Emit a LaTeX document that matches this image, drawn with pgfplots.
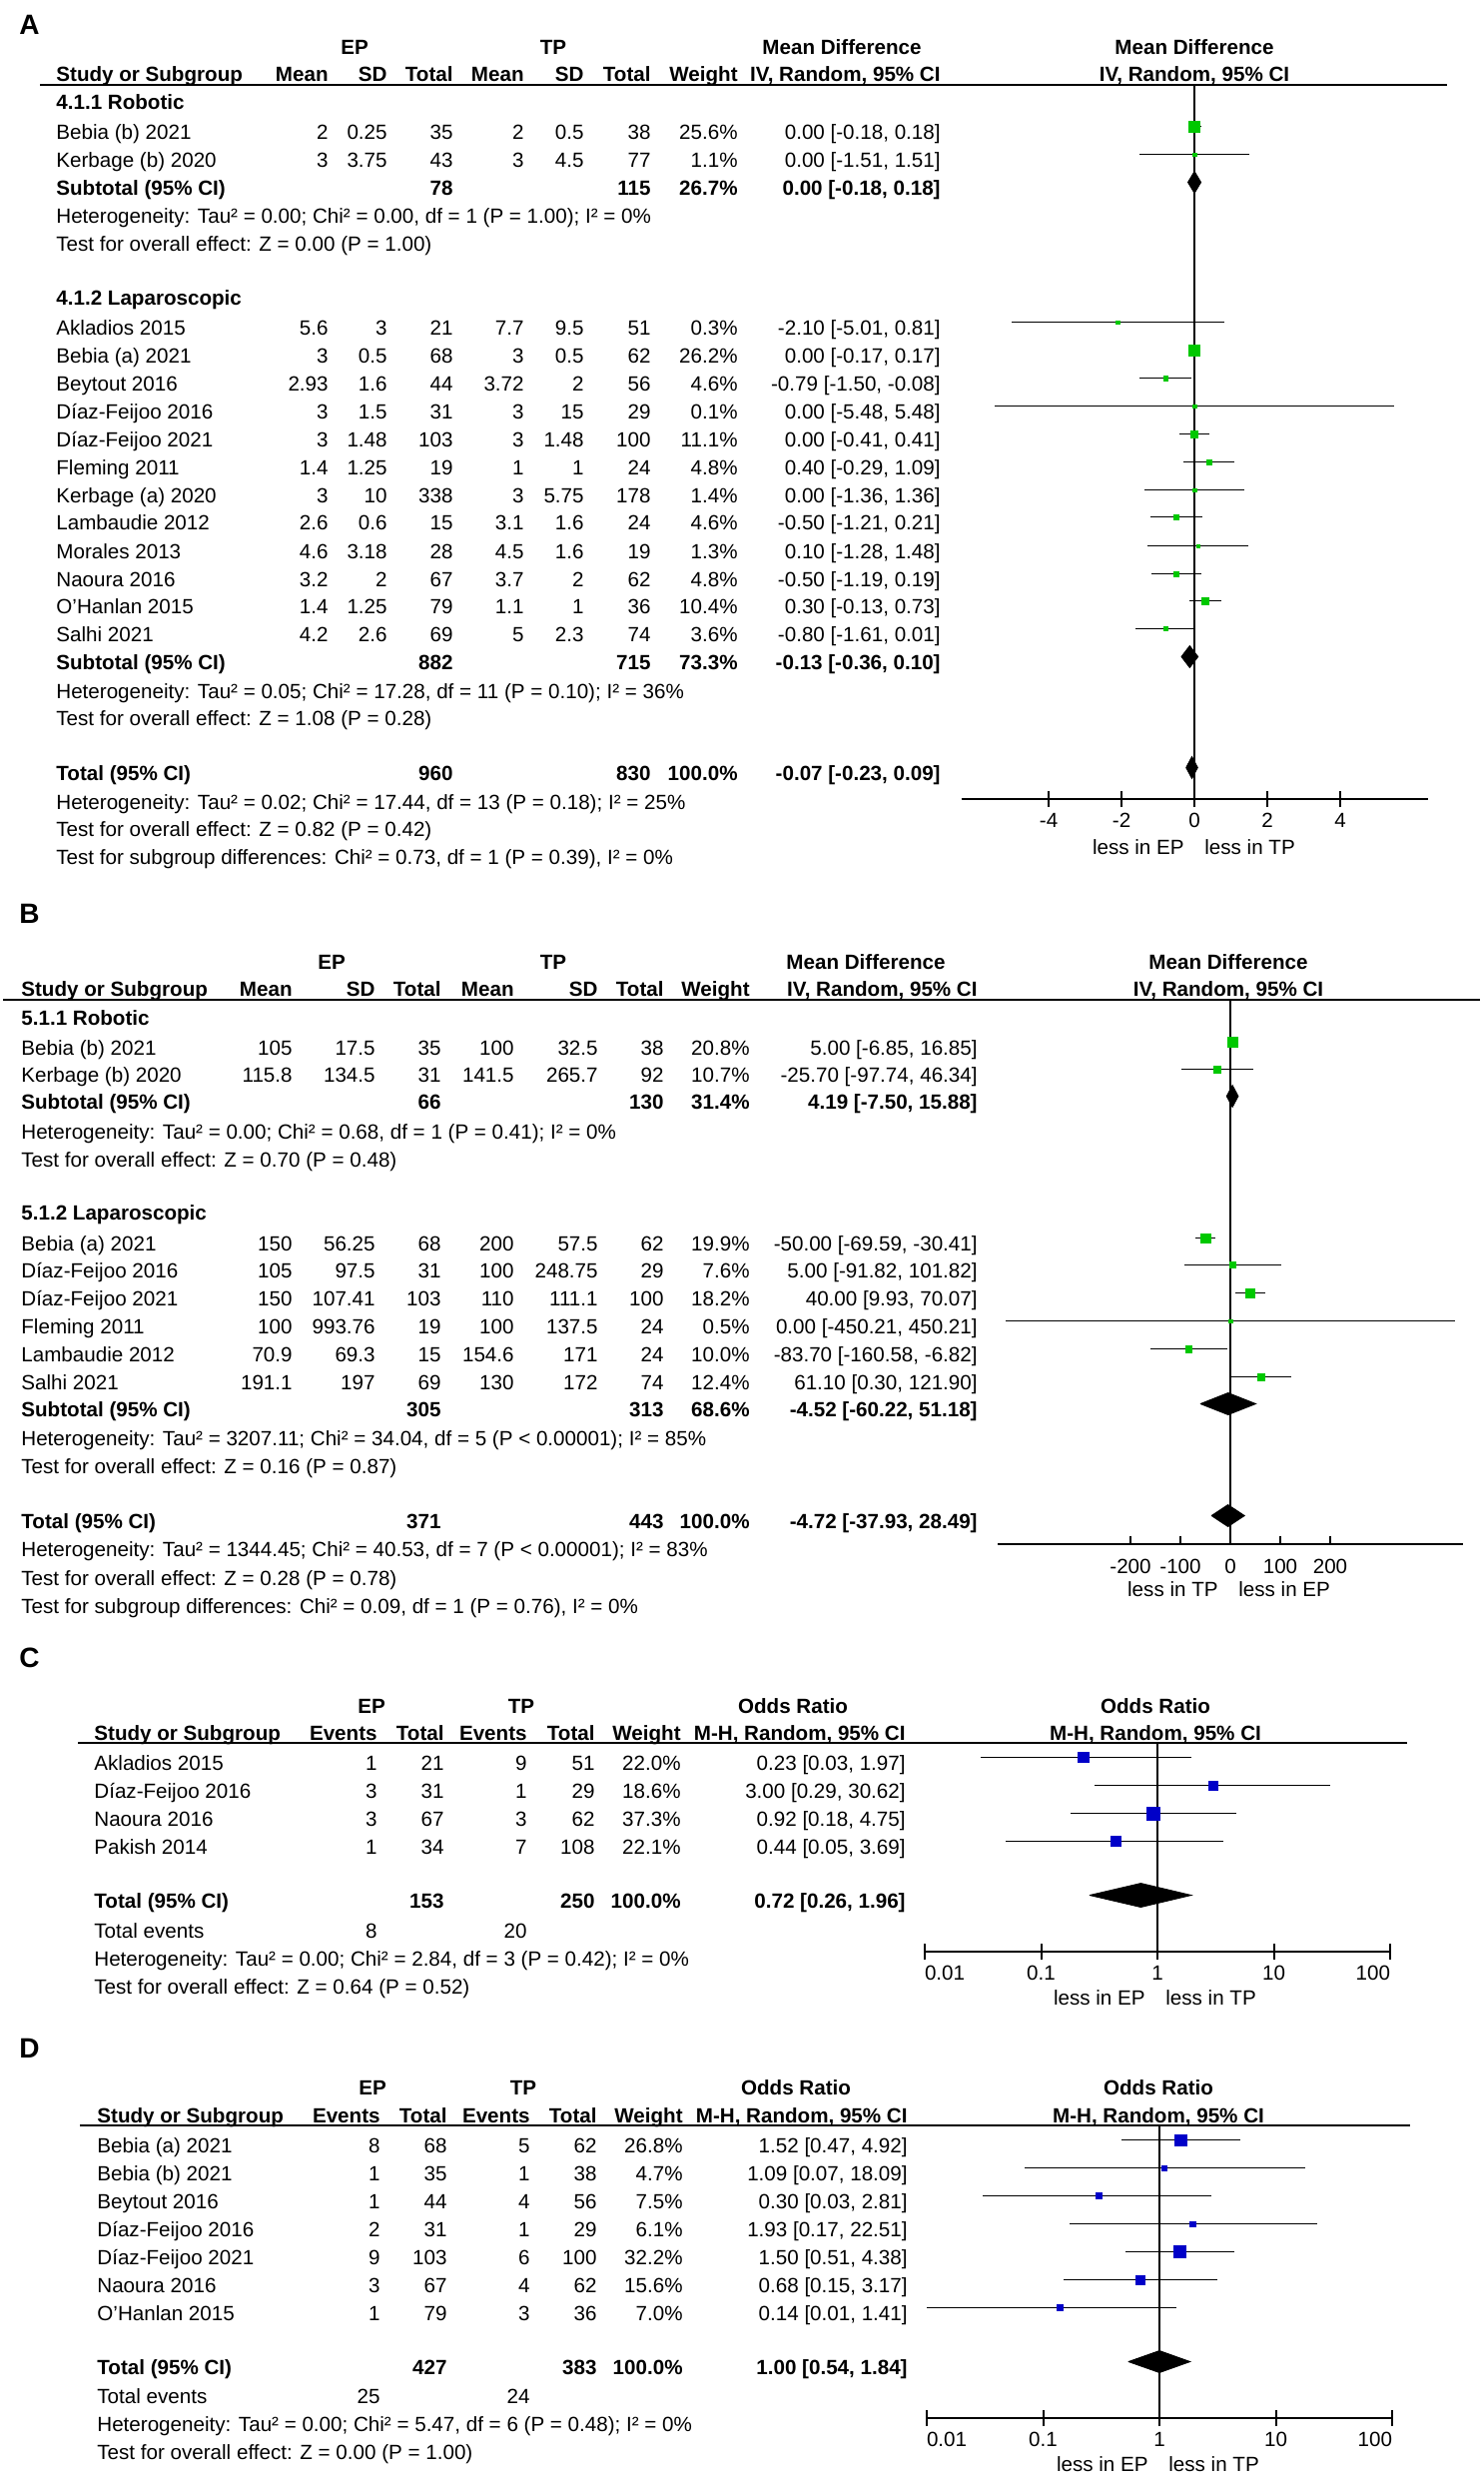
\documentclass[border=0pt]{standalone}
\usepackage{fontspec}
\setmainfont{Liberation Sans}
\usepackage{pgfplots}
\usepackage{pgfplotstable}
\pgfplotsset{compat=1.18}

\definecolor{mkgreen}{RGB}{0,200,0}
\definecolor{mkblue}{RGB}{0,0,200}
\newcommand\fs{\fontsize{10.3}{12}\selectfont}
\newcommand\fb{\fontsize{10.3}{12}\selectfont\bfseries}

\tikzset{
  L/.style={anchor=base west,inner sep=0pt,font=\fs},
  R/.style={anchor=base east,inner sep=0pt,font=\fs},
  C/.style={anchor=base,inner sep=0pt,font=\fs},
  LB/.style={L,font=\fb}, RB/.style={R,font=\fb}, CB/.style={C,font=\fb},
  tag/.style={anchor=base west,inner sep=0pt,font=\fontsize{14}{16}\selectfont\bfseries},
}

% one line of text, y is the text centre in reference pixels
\newcommand\txt[3]{\node[L] at (#1,#2+7.3) {#3};}
% subtotal / total rows
\newcommand\subA[6]{\node[LB] at (56,#1+7.3) {#2}; \node[RB] at (454,#1+7.3) {#3};
  \node[RB] at (652,#1+7.3) {#4}; \node[RB] at (739,#1+7.3) {#5}; \node[RB] at (942,#1+7.3) {#6};}
\newcommand\subB[6]{\node[LB] at (21,#1+7.3) {#2}; \node[RB] at (442,#1+7.3) {#3};
  \node[RB] at (665,#1+7.3) {#4}; \node[RB] at (751,#1+7.3) {#5}; \node[RB] at (979,#1+7.3) {#6};}

\pgfplotsset{
  forest/.style={scale only axis, clip=false, anchor=south west,
    axis y line=none, axis x line*=bottom,
    axis line style={black,line width=1pt},
    tick align=center, major tick length=8pt,
    every tick/.style={black,line width=1pt},
    ytick=\empty,
    xticklabel style={font=\fs,inner sep=0pt,anchor=north,yshift=-3pt}},
  cibars/.style={draw=none,mark=none,
    error bars/x dir=both, error bars/x explicit, error bars/error mark=none,
    error bars/error bar style={draw=black,solid,line width=0.75pt}},
  boxes/.style={only marks, mark=square*, scatter,
    scatter/use mapped color={draw=#1,fill=#1},
    visualization depends on={\thisrow{w} \as \wgt},
    scatter/@pre marker code/.append style={/tikz/mark size={max(0.54*sqrt(\wgt),0.9)}},
    mark options={line width=0.2pt}},
  diam/.style={fill=black,draw=black,line width=0.4pt,mark=none},
  zero/.style={black,line width=0.75pt,mark=none},
}

% y = marker height in reference pixels (negative, downwards)
\pgfplotstableread{
y est lo hi w
-126.5 0.00 -0.18 0.18 25.6
-154.5 0.00 -1.51 1.51 1.1
-322.5 -2.10 -5.01 0.81 0.3
-350.5 0.00 -0.17 0.17 26.2
-378.5 -0.79 -1.50 -0.08 4.6
-406.5 0.00 -5.48 5.48 0.1
-434.5 0.00 -0.41 0.41 11.1
-462.5 0.40 -0.29 1.09 4.8
-490.5 0.00 -1.36 1.36 1.4
-517.5 -0.50 -1.21 0.21 4.6
-546.5 0.10 -1.28 1.48 1.3
-574.5 -0.50 -1.19 0.19 4.8
-601.5 0.30 -0.13 0.73 10.4
-629.5 -0.80 -1.61 0.01 3.6
}\tabA

\pgfplotstableread{
y est lo hi w
-1043.5 5.00 -6.85 16.85 20.8
-1070.5 -25.70 -97.74 46.34 10.7
-1239.5 -50.00 -69.59 -30.41 19.9
-1266.5 5.00 -91.82 101.82 7.6
-1294.5 40.00 9.93 70.07 18.2
-1322.5 0.00 -450.21 450.21 0.5
-1350.5 -83.70 -160.58 -6.82 10.0
-1378.5 61.10 0.30 121.90 12.4
}\tabB

\pgfplotstableread{
y est lo hi w
-1759.5 0.23 0.03 1.97 22.0
-1787.5 3.00 0.29 30.62 18.6
-1815.5 0.92 0.18 4.75 37.3
-1843.5 0.44 0.05 3.69 22.1
}\tabC

\pgfplotstableread{
y est lo hi w
-2142.5 1.52 0.47 4.92 26.8
-2170.5 1.09 0.07 18.09 4.7
-2198.5 0.30 0.03 2.81 7.5
-2226.5 1.93 0.17 22.51 6.1
-2254.5 1.50 0.51 4.38 32.2
-2282.5 0.68 0.15 3.17 15.6
-2310.5 0.14 0.01 1.41 7.0
}\tabD

\begin{document}
\begin{tikzpicture}
\useasboundingbox (0,0) rectangle (743pt,-1240pt);
\begin{scope}[x=0.5pt,y=-0.5pt]
% ---------------- panel A ----------------
\node[tag] at (19,34) {A};
\node[CB] at (355,54.3) {EP};
\node[CB] at (554,54.3) {TP};
\node[CB] at (843,54.3) {Mean Difference};
\node[CB] at (1196,54.3) {Mean Difference};
\node[LB] at (56,81.3) {Study or Subgroup};
\foreach \xx/\tt in {329/Mean,388/SD,454/Total,525/Mean,585/SD,652/Total,739/Weight,942/{IV, Random, 95\% CI}}
  {\node[RB] at (\xx,81.3) {\tt};}
\node[CB] at (1196,81.3) {IV, Random, 95\% CI};
\draw[line width=1pt] (40,85) -- (1449,85);
\node[LB] at (56,102+7.3) {4.1.1 Robotic};
\node[LB] at (56,298+7.3) {4.1.2 Laparoscopic};
\foreach \yy/\nm/\vA/\vB/\vC/\vD/\vE/\vF/\vW/\vI in {
  132/Bebia (b) 2021/2/0.25/35/2/0.5/38/25.6/{0.00 [-0.18, 0.18]},
  160/Kerbage (b) 2020/3/3.75/43/3/4.5/77/1.1/{0.00 [-1.51, 1.51]},
  328/Akladios 2015/5.6/3/21/7.7/9.5/51/0.3/{-2.10 [-5.01, 0.81]},
  356/Bebia (a) 2021/3/0.5/68/3/0.5/62/26.2/{0.00 [-0.17, 0.17]},
  384/Beytout 2016/2.93/1.6/44/3.72/2/56/4.6/{-0.79 [-1.50, -0.08]},
  412/Díaz-Feijoo 2016/3/1.5/31/3/15/29/0.1/{0.00 [-5.48, 5.48]},
  440/Díaz-Feijoo 2021/3/1.48/103/3/1.48/100/11.1/{0.00 [-0.41, 0.41]},
  468/Fleming 2011/1.4/1.25/19/1/1/24/4.8/{0.40 [-0.29, 1.09]},
  496/Kerbage (a) 2020/3/10/338/3/5.75/178/1.4/{0.00 [-1.36, 1.36]},
  523/Lambaudie 2012/2.6/0.6/15/3.1/1.6/24/4.6/{-0.50 [-1.21, 0.21]},
  552/Morales 2013/4.6/3.18/28/4.5/1.6/19/1.3/{0.10 [-1.28, 1.48]},
  580/Naoura 2016/3.2/2/67/3.7/2/62/4.8/{-0.50 [-1.19, 0.19]},
  607/O'Hanlan 2015/1.4/1.25/79/1.1/1/36/10.4/{0.30 [-0.13, 0.73]},
  635/Salhi 2021/4.2/2.6/69/5/2.3/74/3.6/{-0.80 [-1.61, 0.01]}}{
  \node[L] at (56,\yy+7.3) {\nm};
  \node[R] at (329,\yy+7.3) {\vA};
  \node[R] at (388,\yy+7.3) {\vB};
  \node[R] at (454,\yy+7.3) {\vC};
  \node[R] at (525,\yy+7.3) {\vD};
  \node[R] at (585,\yy+7.3) {\vE};
  \node[R] at (652,\yy+7.3) {\vF};
  \node[R] at (739,\yy+7.3) {\vW\%};
  \node[R] at (942,\yy+7.3) {\vI};
}
\subA{188}{Subtotal (95\% CI)}{78}{115}{26.7\%}{0.00 [-0.18, 0.18]}
\txt{56}{216}{Heterogeneity: Tau² = 0.00; Chi² = 0.00, df = 1 (P = 1.00); I² = 0\%}
\txt{56}{244}{Test for overall effect: Z = 0.00 (P = 1.00)}
\subA{663}{Subtotal (95\% CI)}{882}{715}{73.3\%}{-0.13 [-0.36, 0.10]}
\txt{56}{692}{Heterogeneity: Tau² = 0.05; Chi² = 17.28, df = 11 (P = 0.10); I² = 36\%}
\txt{56}{719}{Test for overall effect: Z = 1.08 (P = 0.28)}
\subA{774}{Total (95\% CI)}{960}{830}{100.0\%}{-0.07 [-0.23, 0.09]}
\txt{56}{803}{Heterogeneity: Tau² = 0.02; Chi² = 17.44, df = 13 (P = 0.18); I² = 25\%}
\txt{56}{830}{Test for overall effect: Z = 0.82 (P = 0.42)}
\txt{56}{858}{Test for subgroup differences: Chi² = 0.73, df = 1 (P = 0.39), I² = 0\%}
\node[R] at (1186,855.3) {less in EP};
\node[L] at (1206,855.3) {less in TP};

% ---------------- panel B ----------------
\node[tag] at (19,924) {B};
\node[CB] at (332,970.8) {EP};
\node[CB] at (554,970.8) {TP};
\node[CB] at (867,970.8) {Mean Difference};
\node[CB] at (1230,970.8) {Mean Difference};
\node[LB] at (21,997.3) {Study or Subgroup};
\foreach \xx/\tt in {293/Mean,376/SD,442/Total,515/Mean,599/SD,665/Total,751/Weight,979/{IV, Random, 95\% CI}}
  {\node[RB] at (\xx,997.3) {\tt};}
\node[CB] at (1230,997.3) {IV, Random, 95\% CI};
\draw[line width=1pt] (3,1000.5) -- (1482,1000.5);
\node[LB] at (21,1019+7.3) {5.1.1 Robotic};
\node[LB] at (21,1214+7.3) {5.1.2 Laparoscopic};
\foreach \yy/\nm/\vA/\vB/\vC/\vD/\vE/\vF/\vW/\vI in {
  1049/Bebia (b) 2021/105/17.5/35/100/32.5/38/20.8/{5.00 [-6.85, 16.85]},
  1076/Kerbage (b) 2020/115.8/134.5/31/141.5/265.7/92/10.7/{-25.70 [-97.74, 46.34]},
  1245/Bebia (a) 2021/150/56.25/68/200/57.5/62/19.9/{-50.00 [-69.59, -30.41]},
  1272/Díaz-Feijoo 2016/105/97.5/31/100/248.75/29/7.6/{5.00 [-91.82, 101.82]},
  1300/Díaz-Feijoo 2021/150/107.41/103/110/111.1/100/18.2/{40.00 [9.93, 70.07]},
  1328/Fleming 2011/100/993.76/19/100/137.5/24/0.5/{0.00 [-450.21, 450.21]},
  1356/Lambaudie 2012/70.9/69.3/15/154.6/171/24/10.0/{-83.70 [-160.58, -6.82]},
  1384/Salhi 2021/191.1/197/69/130/172/74/12.4/{61.10 [0.30, 121.90]}}{
  \node[L] at (21,\yy+7.3) {\nm};
  \node[R] at (293,\yy+7.3) {\vA};
  \node[R] at (376,\yy+7.3) {\vB};
  \node[R] at (442,\yy+7.3) {\vC};
  \node[R] at (515,\yy+7.3) {\vD};
  \node[R] at (599,\yy+7.3) {\vE};
  \node[R] at (665,\yy+7.3) {\vF};
  \node[R] at (751,\yy+7.3) {\vW\%};
  \node[R] at (979,\yy+7.3) {\vI};
}
\subB{1103}{Subtotal (95\% CI)}{66}{130}{31.4\%}{4.19 [-7.50, 15.88]}
\txt{21}{1133}{Heterogeneity: Tau² = 0.00; Chi² = 0.68, df = 1 (P = 0.41); I² = 0\%}
\txt{21}{1161}{Test for overall effect: Z = 0.70 (P = 0.48)}
\subB{1411}{Subtotal (95\% CI)}{305}{313}{68.6\%}{-4.52 [-60.22, 51.18]}
\txt{21}{1440}{Heterogeneity: Tau² = 3207.11; Chi² = 34.04, df = 5 (P < 0.00001); I² = 85\%}
\txt{21}{1468}{Test for overall effect: Z = 0.16 (P = 0.87)}
\subB{1523}{Total (95\% CI)}{371}{443}{100.0\%}{-4.72 [-37.93, 28.49]}
\txt{21}{1551}{Heterogeneity: Tau² = 1344.45; Chi² = 40.53, df = 7 (P < 0.00001); I² = 83\%}
\txt{21}{1580}{Test for overall effect: Z = 0.28 (P = 0.78)}
\txt{21}{1608}{Test for subgroup differences: Chi² = 0.09, df = 1 (P = 0.76), I² = 0\%}
\node[R] at (1220,1598.3) {less in TP};
\node[L] at (1240,1598.3) {less in EP};

% ---------------- panel C ----------------
\node[tag] at (19,1669) {C};
\node[CB] at (372,1715.3) {EP};
\node[CB] at (522,1715.3) {TP};
\node[CB] at (794,1715.3) {Odds Ratio};
\node[CB] at (1157,1715.3) {Odds Ratio};
\node[LB] at (94,1742.3) {Study or Subgroup};
\foreach \xx/\tt in {378/Events,445/Total,528/Events,596/Total,682/Weight,907/{M-H, Random, 95\% CI}}
  {\node[RB] at (\xx,1742.3) {\tt};}
\node[CB] at (1157,1742.3) {M-H, Random, 95\% CI};
\draw[line width=1pt] (78,1745) -- (1409,1745);
\foreach \yy/\nm/\vA/\vB/\vC/\vD/\vW/\vI in {
  1765/Akladios 2015/1/21/9/51/22.0/{0.23 [0.03, 1.97]},
  1793/Díaz-Feijoo 2016/3/31/1/29/18.6/{3.00 [0.29, 30.62]},
  1821/Naoura 2016/3/67/3/62/37.3/{0.92 [0.18, 4.75]},
  1849/Pakish 2014/1/34/7/108/22.1/{0.44 [0.05, 3.69]}}{
  \node[L] at (94,\yy+7.3) {\nm};
  \node[R] at (378,\yy+7.3) {\vA};
  \node[R] at (445,\yy+7.3) {\vB};
  \node[R] at (528,\yy+7.3) {\vC};
  \node[R] at (596,\yy+7.3) {\vD};
  \node[R] at (682,\yy+7.3) {\vW\%};
  \node[R] at (907,\yy+7.3) {\vI};
}
\node[LB] at (94,1910.3) {Total (95\% CI)};
\node[RB] at (445,1910.3) {153};
\node[RB] at (596,1910.3) {250};
\node[RB] at (682,1910.3) {100.0\%};
\node[RB] at (907,1910.3) {0.72 [0.26, 1.96]};
\txt{94}{1933}{Total events}
\node[R] at (378,1940.3) {8};
\node[R] at (528,1940.3) {20};
\txt{94}{1961}{Heterogeneity: Tau² = 0.00; Chi² = 2.84, df = 3 (P = 0.42); I² = 0\%}
\txt{94}{1989}{Test for overall effect: Z = 0.64 (P = 0.52)}
\node[R] at (1147,2007.3) {less in EP};
\node[L] at (1167,2007.3) {less in TP};

% ---------------- panel D ----------------
\node[tag] at (19,2060) {D};
\node[CB] at (373,2097.3) {EP};
\node[CB] at (524,2097.3) {TP};
\node[CB] at (797,2097.3) {Odds Ratio};
\node[CB] at (1160,2097.3) {Odds Ratio};
\node[LB] at (97,2125.3) {Study or Subgroup};
\foreach \xx/\tt in {381/Events,448/Total,531/Events,598/Total,684/Weight,909/{M-H, Random, 95\% CI}}
  {\node[RB] at (\xx,2125.3) {\tt};}
\node[CB] at (1160,2125.3) {M-H, Random, 95\% CI};
\draw[line width=1pt] (80,2128) -- (1412,2128);
\foreach \yy/\nm/\vA/\vB/\vC/\vD/\vW/\vI in {
  2148/Bebia (a) 2021/8/68/5/62/26.8/{1.52 [0.47, 4.92]},
  2176/Bebia (b) 2021/1/35/1/38/4.7/{1.09 [0.07, 18.09]},
  2204/Beytout 2016/1/44/4/56/7.5/{0.30 [0.03, 2.81]},
  2232/Díaz-Feijoo 2016/2/31/1/29/6.1/{1.93 [0.17, 22.51]},
  2260/Díaz-Feijoo 2021/9/103/6/100/32.2/{1.50 [0.51, 4.38]},
  2288/Naoura 2016/3/67/4/62/15.6/{0.68 [0.15, 3.17]},
  2316/O'Hanlan 2015/1/79/3/36/7.0/{0.14 [0.01, 1.41]}}{
  \node[L] at (97,\yy+7.3) {\nm};
  \node[R] at (381,\yy+7.3) {\vA};
  \node[R] at (448,\yy+7.3) {\vB};
  \node[R] at (531,\yy+7.3) {\vC};
  \node[R] at (598,\yy+7.3) {\vD};
  \node[R] at (684,\yy+7.3) {\vW\%};
  \node[R] at (909,\yy+7.3) {\vI};
}
\node[LB] at (97,2377.3) {Total (95\% CI)};
\node[RB] at (448,2377.3) {427};
\node[RB] at (598,2377.3) {383};
\node[RB] at (684,2377.3) {100.0\%};
\node[RB] at (909,2377.3) {1.00 [0.54, 1.84]};
\txt{97}{2399}{Total events}
\node[R] at (381,2406.3) {25};
\node[R] at (531,2406.3) {24};
\txt{97}{2427}{Heterogeneity: Tau² = 0.00; Chi² = 5.47, df = 6 (P = 0.48); I² = 0\%}
\txt{97}{2455}{Test for overall effect: Z = 0.00 (P = 1.00)}
\node[R] at (1150,2474.3) {less in EP};
\node[L] at (1170,2474.3) {less in TP};
\end{scope}

% ---------------- plots ----------------
\begin{axis}[forest, at={(481.3pt,-400pt)}, width=233.45pt, height=357.5pt,
  xmin=-6.4, xmax=6.4, ymin=-800, ymax=-85,
  xtick={-4,-2,0,2,4}, xticklabels={-4,-2,0,2,4}]
  \addplot[zero] coordinates {(0,-85) (0,-800)};
  \addplot[cibars] table[x=est, y=y, x error plus expr=\thisrow{hi}-\thisrow{est}, x error minus expr=\thisrow{est}-\thisrow{lo}] {\tabA};
  \addplot[boxes=mkgreen] table[x=est, y=y] {\tabA};
  \addplot[diam] coordinates {(-0.18,-182.5) (0,-171.5) (0.18,-182.5) (0,-193.5) (-0.18,-182.5)};
  \addplot[diam] coordinates {(-0.36,-657.5) (-0.13,-646.5) (0.10,-657.5) (-0.13,-668.5) (-0.36,-657.5)};
  \addplot[diam] coordinates {(-0.23,-768.5) (-0.07,-757.5) (0.09,-768.5) (-0.07,-779.5) (-0.23,-768.5)};
\end{axis}

\begin{axis}[forest, at={(499.5pt,-773pt)}, width=233pt, height=272.75pt,
  xmin=-466, xmax=466, ymin=-1546, ymax=-1000.5, tick align=inside, major tick length=4pt,
  xticklabel style={yshift=-4.5pt},
  xtick={-200,-100,0,100,200}, xticklabels={-200,-100,0,100,200}]
  \addplot[zero] coordinates {(0,-1000.5) (0,-1546)};
  \addplot[cibars] table[x=est, y=y, x error plus expr=\thisrow{hi}-\thisrow{est}, x error minus expr=\thisrow{est}-\thisrow{lo}] {\tabB};
  \addplot[boxes=mkgreen] table[x=est, y=y] {\tabB};
  \addplot[diam] coordinates {(-7.50,-1097.5) (4.19,-1086.5) (15.88,-1097.5) (4.19,-1108.5) (-7.50,-1097.5)};
  \addplot[diam] coordinates {(-60.22,-1405.5) (-4.52,-1394.5) (51.18,-1405.5) (-4.52,-1416.5) (-60.22,-1405.5)};
  \addplot[diam] coordinates {(-37.93,-1517.5) (-4.72,-1506.5) (28.49,-1517.5) (-4.72,-1528.5) (-37.93,-1517.5)};
\end{axis}

\begin{axis}[forest, at={(463pt,-977pt)}, width=233pt, height=104.5pt,
  xmin=-2, xmax=2, ymin=-1954, ymax=-1745,
  xtick={-2,-1,0,1,2}, xticklabels={{\makebox[0pt][l]{0.01}},0.1,1,10,{\makebox[0pt][r]{100}}}]
  \addplot[zero] coordinates {(0,-1745) (0,-1954)};
  \addplot[cibars] table[x expr=log10(\thisrow{est}), y=y, x error plus expr=log10(\thisrow{hi})-log10(\thisrow{est}), x error minus expr=log10(\thisrow{est})-log10(\thisrow{lo})] {\tabC};
  \addplot[boxes=mkblue] table[x expr=log10(\thisrow{est}), y=y] {\tabC};
  \addplot[diam] table[row sep=\\, x expr=log10(\thisrow{x}), y=y] {x y\\ 0.26 -1897.5\\ 0.72 -1885.5\\ 1.96 -1897.5\\ 0.72 -1909.5\\ 0.26 -1897.5\\};
\end{axis}

\begin{axis}[forest, at={(464pt,-1210.5pt)}, width=233pt, height=146.5pt,
  xmin=-2, xmax=2, ymin=-2421, ymax=-2128,
  xtick={-2,-1,0,1,2}, xticklabels={{\makebox[0pt][l]{0.01}},0.1,1,10,{\makebox[0pt][r]{100}}}]
  \addplot[zero] coordinates {(0,-2128) (0,-2421)};
  \addplot[cibars] table[x expr=log10(\thisrow{est}), y=y, x error plus expr=log10(\thisrow{hi})-log10(\thisrow{est}), x error minus expr=log10(\thisrow{est})-log10(\thisrow{lo})] {\tabD};
  \addplot[boxes=mkblue] table[x expr=log10(\thisrow{est}), y=y] {\tabD};
  \addplot[diam] table[row sep=\\, x expr=log10(\thisrow{x}), y=y] {x y\\ 0.54 -2364.5\\ 1.00 -2353.5\\ 1.84 -2364.5\\ 1.00 -2375.5\\ 0.54 -2364.5\\};
\end{axis}
\end{tikzpicture}
\end{document}
